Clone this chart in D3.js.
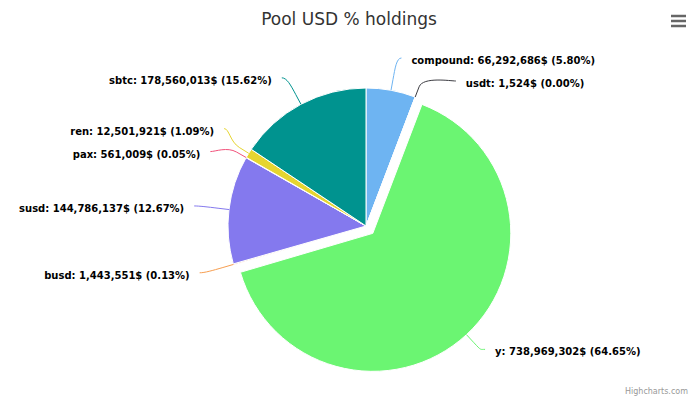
<!DOCTYPE html>
<html>
<head>
<meta charset="utf-8">
<script src="https://cdn.jsdelivr.net/npm/d3@7"></script>
<style>
    body { margin: 0; background: #fff; }
    svg { display: block; font-family: "DejaVu Sans", sans-serif; }
</style>
</head>
<body>
<svg id="chart" width="698" height="399"></svg>
<script>
// pool names and USD holdings, clockwise from 12 o'clock
const pools = ["compound", "usdt", "y", "busd", "susd", "pax", "ren", "sbtc"];
const holdings = [66292686, 1524, 738969302, 1443551, 144786137, 561009, 12501921, 178560013];
const slicedPools = ["y"];
const palette = ["#6eb4f2", "#3c3c42", "#6bf572", "#f79e50", "#8479ee", "#f2527b", "#e6d530", "#00938f"];

const width = 698, height = 399;
const cx = 366, cy = 226, radius = 138;
const labelDistance = 30, slicedOffset = 10, labelHeight = 23;
const R = radius + labelDistance;

const svg = d3.select("#chart");
const total = d3.sum(holdings);
const fmt = d3.format(",");
const color = d3.scaleOrdinal(pools, palette);

const arcs = d3.pie().sort(null).value(d => d)(holdings);
const arc = d3.arc().innerRadius(0).outerRadius(radius);

const points = arcs.map((a, i) => {
    const mid = (a.startAngle + a.endAngle) / 2;
    const sx = Math.sin(mid), sy = -Math.cos(mid);
    const shift = slicedPools.includes(pools[i]) ? slicedOffset : 0;
    return {
        arc: a,
        name: pools[i],
        value: holdings[i],
        pct: holdings[i] / total * 100,
        sx, sy,
        tx: sx * shift, ty: sy * shift,
        left: mid > Math.PI,
        natX: cx + sx * R,
        natY: cy + sy * R
    };
});

// Slices
svg.append("g")
    .selectAll("path")
    .data(points)
    .join("path")
    .attr("transform", d => `translate(${cx + d.tx},${cy + d.ty})`)
    .attr("d", d => arc(d.arc))
    .attr("fill", d => color(d.name))
    .attr("stroke", "#fff")
    .attr("stroke-width", 1)
    .attr("stroke-linejoin", "round");

// Label placement, pushing colliding labels apart on each side
const labelTop = cy - R, labelBottom = cy + R;

function distribute(boxes, len) {
    boxes.sort((a, b) => a.target - b.target);
    let groups = boxes.map(b => ({ size: b.size, targets: [b.target], items: [b] }));
    let overlapping = true;
    while (overlapping) {
        groups.forEach(g => {
            const t = (d3.min(g.targets) + d3.max(g.targets)) / 2;
            g.pos = Math.min(Math.max(0, t - g.size / 2), len - g.size);
        });
        overlapping = false;
        for (let i = groups.length - 1; i > 0; i--) {
            const a = groups[i - 1], b = groups[i];
            if (a.pos + a.size > b.pos + 0.001) {
                a.size += b.size;
                a.targets = a.targets.concat(b.targets);
                a.items = a.items.concat(b.items);
                groups.splice(i, 1);
                overlapping = true;
            }
        }
    }
    groups.forEach(g => {
        let p = g.pos;
        g.items.forEach(b => { b.pos = p; p += b.size; });
    });
}

function getX(y, left) {
    const s = Math.max(-1, Math.min(1, (y - cy) / R));
    return cx + (left ? -1 : 1) * Math.cos(Math.asin(s)) * R;
}

[true, false].forEach(side => {
    const boxes = points.filter(p => p.left === side).map(p => ({
        point: p,
        size: labelHeight,
        target: p.natY - labelTop + labelHeight / 2
    }));
    distribute(boxes, labelBottom + labelHeight - labelTop);
    boxes.forEach(b => {
        const p = b.point;
        p.y = labelTop + b.pos;
        const atEdge = Math.abs(p.y - labelTop) < 0.01 || Math.abs(p.y - labelBottom) < 0.01;
        p.x = getX(atEdge ? p.natY : p.y, p.left);
    });
});

// Connectors
svg.append("g")
    .selectAll("path")
    .data(points)
    .join("path")
    .attr("fill", "none")
    .attr("stroke", d => color(d.name))
    .attr("stroke-width", 1)
    .attr("d", d => {
        const bx = cx + d.tx + d.sx * radius, by = cy + d.ty + d.sy * radius;
        const b2x = cx + d.tx + d.sx * (radius + 11), b2y = cy + d.ty + d.sy * (radius + 11);
        const p = d3.path();
        p.moveTo(d.x + (d.left ? -5 : 5), d.y);
        p.bezierCurveTo(d.x, d.y, 2 * b2x - bx, 2 * b2y - by, b2x, b2y);
        p.lineTo(bx, by);
        return p.toString();
    });

// Labels
svg.append("g")
    .selectAll("text")
    .data(points)
    .join("text")
    .attr("x", d => d.x + (d.left ? -15 : 15))
    .attr("y", d => d.y + 6)
    .attr("text-anchor", d => d.left ? "end" : "start")
    .attr("font-size", 10)
    .attr("font-weight", "bold")
    .attr("fill", "#000")
    .text(d => `${d.name}: ${fmt(d.value)}$ (${d.pct.toFixed(2)}%)`);

// Title
svg.append("text")
    .attr("x", width / 2)
    .attr("y", 25)
    .attr("text-anchor", "middle")
    .attr("font-size", 17)
    .attr("fill", "#333")
    .text("Pool USD % holdings");

// Context menu button
svg.append("g")
    .selectAll("line")
    .data([16, 21, 26])
    .join("line")
    .attr("x1", 671).attr("x2", 686)
    .attr("y1", d => d).attr("y2", d => d)
    .attr("stroke", "#666")
    .attr("stroke-width", 2.5);

// Credits
svg.append("text")
    .attr("x", 688)
    .attr("y", 394)
    .attr("text-anchor", "end")
    .attr("font-size", 8)
    .attr("fill", "#999")
    .text("Highcharts.com");
</script>
</body>
</html>
